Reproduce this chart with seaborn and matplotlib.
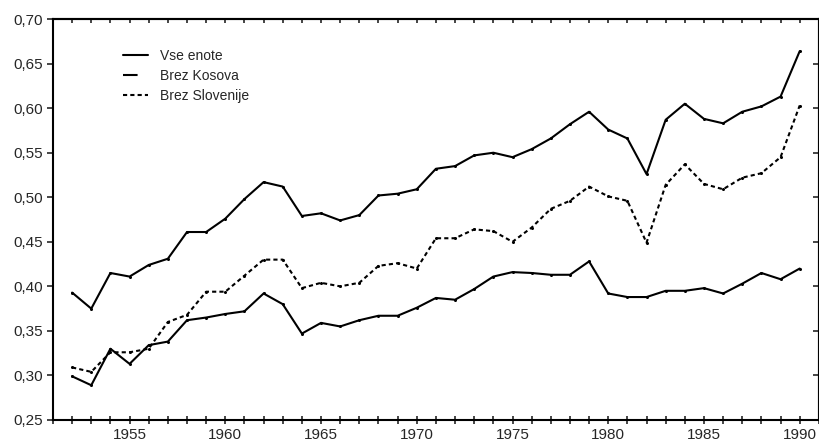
import seaborn as sns
import matplotlib.pyplot as plt
import matplotlib.ticker as mticker
import pandas as pd

years = list(range(1952, 1991))

vse_enote = [0.393, 0.375, 0.415, 0.411, 0.424, 0.431, 0.461, 0.461, 0.476, 0.498,
             0.517, 0.512, 0.479, 0.482, 0.474, 0.480, 0.502, 0.504, 0.509, 0.532,
             0.535, 0.547, 0.550, 0.545, 0.554, 0.566, 0.582, 0.596, 0.576, 0.566,
             0.526, 0.587, 0.605, 0.588, 0.583, 0.596, 0.602, 0.613, 0.664]

brez_kosova = [0.299, 0.289, 0.330, 0.313, 0.334, 0.338, 0.362, 0.365, 0.369, 0.372,
               0.392, 0.380, 0.347, 0.359, 0.355, 0.362, 0.367, 0.367, 0.376, 0.387,
               0.385, 0.397, 0.411, 0.416, 0.415, 0.413, 0.413, 0.428, 0.392, 0.388,
               0.388, 0.395, 0.395, 0.398, 0.392, 0.403, 0.415, 0.408, 0.420]

brez_slovenije = [0.309, 0.304, 0.326, 0.326, 0.330, 0.360, 0.368, 0.394, 0.394, 0.412,
                  0.430, 0.430, 0.398, 0.404, 0.400, 0.404, 0.423, 0.426, 0.420, 0.454,
                  0.454, 0.464, 0.462, 0.450, 0.466, 0.487, 0.496, 0.512, 0.501, 0.496,
                  0.449, 0.514, 0.537, 0.515, 0.509, 0.522, 0.527, 0.545, 0.603]

labels = ["Vse enote", "Brez Kosova", "Brez Slovenije"]

df = pd.concat([
    pd.DataFrame({"leto": years, "vrednost": vals, "serija": name})
    for name, vals in zip(labels, [vse_enote, brez_kosova, brez_slovenije])
], ignore_index=True)

sns.set_style("ticks")
plt.rcParams["font.family"] = ["Liberation Sans", "DejaVu Sans"]

fig = plt.figure(figsize=(8.2, 4.42), dpi=100)
ax = fig.add_axes([0.0646, 0.0498, 0.934, 0.907])

sns.lineplot(data=df, x="leto", y="vrednost", hue="serija", style="serija",
             hue_order=labels, style_order=labels,
             palette={l: "black" for l in labels},
             dashes={"Vse enote": "", "Brez Kosova": "", "Brez Slovenije": (2, 1.5)},
             markers={l: "o" for l in labels}, markersize=2.2, markeredgewidth=0,
             linewidth=1.5, ax=ax)

ax.set_xlim(1951, 1991)
ax.set_ylim(0.25, 0.70)
ax.set_xlabel("")
ax.set_ylabel("")

ax.xaxis.set_major_locator(mticker.MultipleLocator(1))
ax.xaxis.set_major_formatter(mticker.FuncFormatter(
    lambda v, p: f"{int(round(v))}" if int(round(v)) % 5 == 0 else ""))
ax.yaxis.set_major_locator(mticker.MultipleLocator(0.05))
ax.yaxis.set_major_formatter(mticker.FuncFormatter(lambda v, p: f"{v:.2f}".replace(".", ",")))

ax.tick_params(axis="x", which="both", direction="inout", length=6, width=1.2,
               top=False, labelsize=11, pad=3)
ax.tick_params(axis="y", direction="out", length=4, width=1.2, right=False,
               labelsize=11, pad=3)
# inward ticks on the top and right frame
ax2 = ax.secondary_yaxis("right")
ax2.yaxis.set_major_locator(mticker.MultipleLocator(0.05))
ax2.tick_params(direction="in", length=4, width=1.2, labelright=False)
ax3 = ax.secondary_xaxis("top")
ax3.xaxis.set_major_locator(mticker.MultipleLocator(1))
ax3.tick_params(direction="in", length=3, width=1.2, labeltop=False)

for s in ax.spines.values():
    s.set_linewidth(1.5)
    s.set_color("black")
ax2.spines["right"].set_linewidth(1.5)
ax3.spines["top"].set_linewidth(1.5)

leg = ax.legend(loc="upper left", bbox_to_anchor=(0.075, 0.957), frameon=False,
                fontsize=10, handlelength=1.8, handletextpad=0.86, labelspacing=0.45)
for h in leg.get_lines():
    h.set_marker("")
leg.get_lines()[1].set_linestyle((0, (7, 10)))

fig.savefig("out.png", dpi=100)
